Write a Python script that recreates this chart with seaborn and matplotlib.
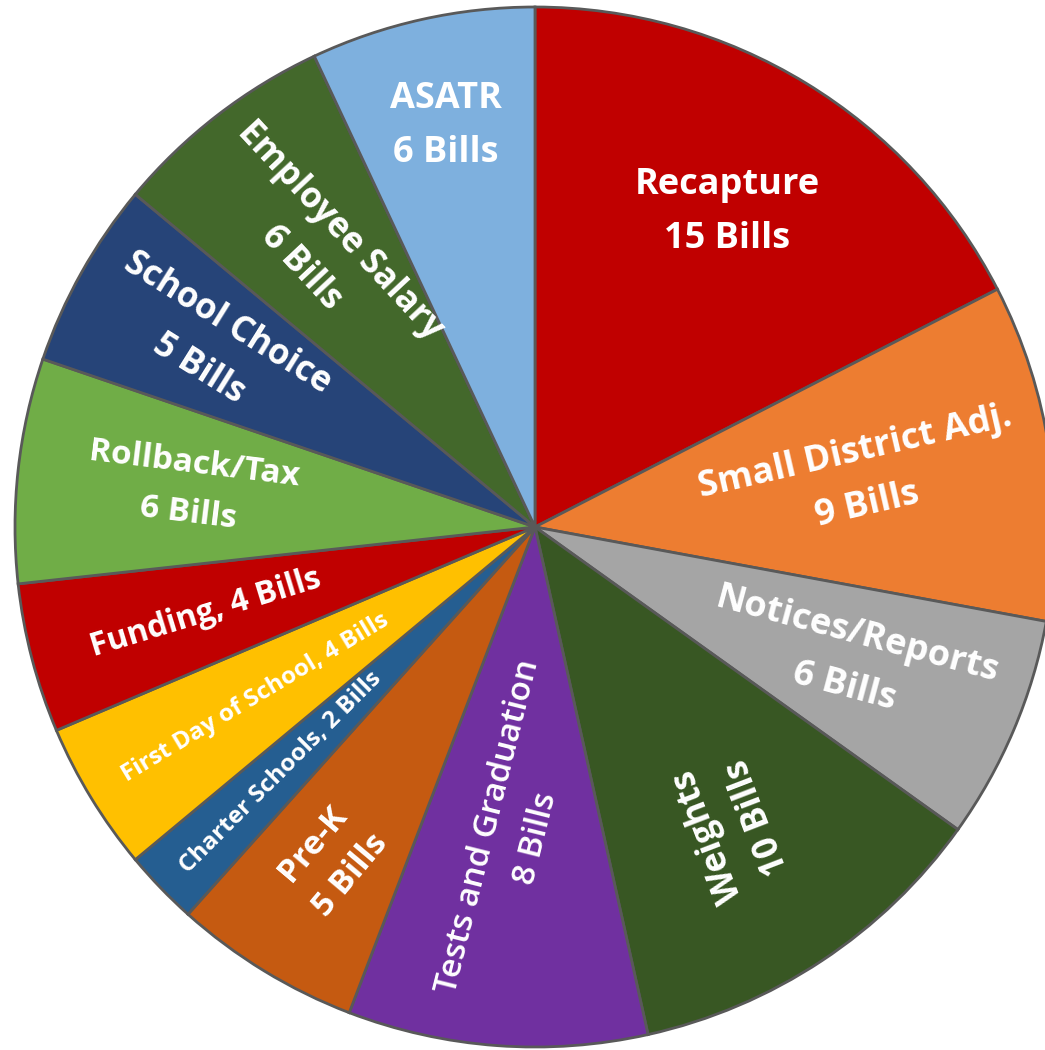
import numpy as np
import matplotlib
matplotlib.use("Agg")
import matplotlib.pyplot as plt
import seaborn as sns

sns.set_theme(style="white")
plt.rcParams['font.family'] = ['Open Sans', 'DejaVu Sans']

# ---- data ----
categories = ["Recapture", "Small District Adj.", "Notices/Reports", "Weights",
              "Tests and Graduation", "Pre-K", "Charter Schools", "First Day of School",
              "Funding", "Rollback/Tax", "School Choice", "Employee Salary", "ASATR"]
bills = [15, 9, 6, 10, 8, 5, 2, 4, 4, 6, 5, 6, 6]
label_texts = ["Recapture\n15 Bills", "Small District Adj.\n9 Bills", "Notices/Reports\n6 Bills",
               "Weights\n10 Bills", "Tests and Graduation\n8 Bills", "Pre-K\n5 Bills",
               "Charter Schools, 2 Bills", "First Day of School, 4 Bills", "Funding, 4 Bills",
               "Rollback/Tax\n6 Bills", "School Choice\n5 Bills", "Employee Salary\n6 Bills",
               "ASATR\n6 Bills"]

# ---- style ----
colors = ["#C00000", "#ED7D31", "#A5A5A5", "#385723", "#7030A0", "#C55A11", "#255E91",
          "#FFC000", "#C00000", "#70AD47", "#264478", "#43682B", "#7EB0DE"]
label_radius = [0.71, 0.635, 0.66, 0.69, 0.59, 0.75, 0.68, 0.63, 0.655, 0.665, 0.71, 0.675, 0.79]
label_rot = [0, 13, -15, 111, 76, 50, 45, 31, 17, -7, -32, -47, 0]
label_size = [26, 26, 26, 25, 24, 24, 17.5, 17.5, 23, 24, 25, 25, 26]
label_weight = ["bold", "bold", "bold", "bold", "semibold", "bold", "bold", "bold",
                "bold", "bold", "bold", "bold", "bold"]

W, H = 1045, 1050
fig = plt.figure(figsize=(W / 100, H / 100), dpi=100)
R_px = 520
cx, cy = 535, 527
ax = fig.add_axes([(cx - R_px) / W, (H - cy - R_px) / H, 2 * R_px / W, 2 * R_px / H])

wedges, _ = ax.pie(bills, colors=colors, startangle=90, counterclock=False, radius=1,
                   wedgeprops=dict(edgecolor="#595959", linewidth=2))
ax.set_xlim(-1, 1)
ax.set_ylim(-1, 1)
ax.set_aspect("equal")
ax.axis("off")

for w, txt, r, rot, fs, fw in zip(wedges, label_texts, label_radius, label_rot, label_size, label_weight):
    mid = np.deg2rad((w.theta1 + w.theta2) / 2)
    ax.text(r * np.cos(mid), r * np.sin(mid), txt, rotation=rot, rotation_mode="anchor",
            ha="center", va="center", color="white", fontsize=fs, fontweight=fw,
            multialignment="center", linespacing=1.65)

fig.savefig("out.png", dpi=100)
